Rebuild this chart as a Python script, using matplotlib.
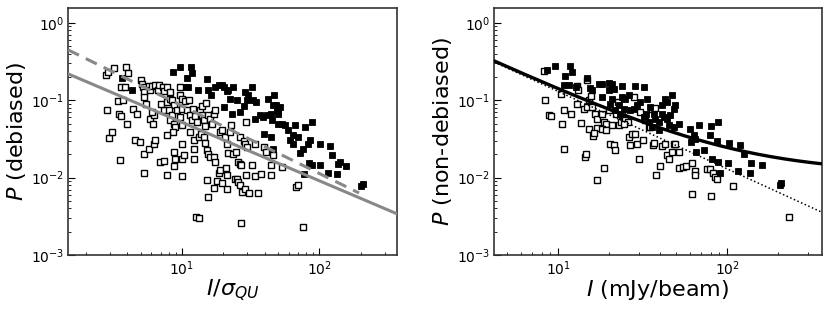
import matplotlib
matplotlib.use("Agg")
import numpy as np
from matplotlib import pyplot as plt

# left panel: P (debiased) vs I / sigma_QU
LEFT_OPEN_X = [
    2.79, 2.88, 3.19, 3.90, 4.05, 3.60, 3.85, 2.85, 3.43, 3.75, 3.47, 3.62, 3.98, 2.95, 3.08, 3.56,
    4.38, 4.71, 4.58, 4.92, 5.03, 5.12, 5.21, 5.33, 5.47, 5.27, 5.72, 5.82, 6.05, 6.39, 6.69, 6.84,
    7.24, 7.36, 5.33, 5.33, 5.79, 6.22, 6.32, 5.89, 6.22, 6.15, 6.05, 7.36, 7.08, 7.78, 8.13, 7.78,
    8.23, 8.51, 8.70, 8.05, 8.46, 8.23, 8.70, 8.84, 8.65, 7.78, 6.88, 7.36, 7.78, 8.70, 8.84, 8.80,
    9.72, 9.72, 10.0, 9.20, 9.72, 10.0, 10.0, 10.6, 10.9, 11.4, 11.8, 11.5, 12.2, 10.0, 9.94, 10.4,
    10.1, 11.2, 12.0, 12.5, 12.8, 13.6, 14.0, 14.5, 14.8, 14.0, 14.9, 15.6, 16.1, 16.5, 17.0, 17.5,
    12.2, 12.2, 13.4, 13.7, 14.5, 14.8, 15.2, 15.6, 16.1, 17.0, 17.5, 15.2, 15.4, 17.2, 17.9, 18.5,
    19.0, 19.5, 20.9, 21.2, 12.6, 13.4, 19.0, 19.5, 20.7, 21.2, 21.6, 23.7, 22.8, 24.6, 25.8, 26.5,
    24.4, 25.1, 25.8, 26.5, 27.3, 28.8, 29.3, 30.7, 26.8, 26.5, 28.1, 28.8, 29.6, 32.6, 34.1, 36.1,
    37.9, 39.8, 41.0, 44.6, 44.6, 46.3, 27.0, 29.3, 22.4, 67.3, 69.6, 76.6, 53.2, 34.1, 21.2,
]
LEFT_OPEN_P = [
    0.213, 0.230, 0.264, 0.270, 0.226, 0.146, 0.146, 0.0757, 0.098, 0.100, 0.0659, 0.0621, 0.0499,
    0.0326, 0.039, 0.0168, 0.0765, 0.0673, 0.0304, 0.0286, 0.185, 0.164, 0.146, 0.128, 0.0906, 0.110,
    0.152, 0.135, 0.152, 0.155, 0.135, 0.155, 0.146, 0.132, 0.0113, 0.0200, 0.0232, 0.0275, 0.0310,
    0.0579, 0.0640, 0.049, 0.0707, 0.0743, 0.0906, 0.146, 0.128, 0.095, 0.105, 0.100, 0.0861, 0.0743,
    0.0640, 0.0562, 0.0499, 0.0452, 0.039, 0.0353, 0.016, 0.0164, 0.0107, 0.0215, 0.0176, 0.0140,
    0.146, 0.116, 0.105, 0.0743, 0.0608, 0.078, 0.0475, 0.097, 0.0743, 0.064, 0.0551, 0.039, 0.0304,
    0.0275, 0.0176, 0.0194, 0.0106, 0.100, 0.078, 0.0621, 0.0525, 0.0743, 0.064, 0.0551, 0.047,
    0.0836, 0.092, 0.064, 0.0574, 0.0499, 0.0673, 0.0743, 0.0237, 0.0176, 0.0336, 0.0371, 0.0336,
    0.0281, 0.023, 0.0204, 0.0185, 0.0185, 0.016, 0.0094, 0.0056, 0.0073, 0.0091, 0.0113, 0.0124,
    0.0084, 0.0135, 0.0107, 0.0031, 0.0030, 0.039, 0.0409, 0.0336, 0.0275, 0.0208, 0.0204, 0.0475,
    0.0215, 0.016, 0.0152, 0.0097, 0.0097, 0.0088, 0.008, 0.0065, 0.0071, 0.0107, 0.0063, 0.0144,
    0.0336, 0.0298, 0.0275, 0.0249, 0.0147, 0.0105, 0.0063, 0.011, 0.0249, 0.0215, 0.0107, 0.0144,
    0.0194, 0.0026, 0.0525, 0.039, 0.0076, 0.0081, 0.0023, 0.0137, 0.027, 0.0072,
]
LEFT_FILLED_X = [
    3.65, 4.33, 8.60, 9.62, 10.9, 11.6, 11.9, 10.7, 11.1, 13.0, 15.2, 15.6, 16.3, 17.5, 18.5, 19.5,
    20.1, 21.2, 21.8, 20.4, 22.4, 23.7, 25.1, 26.5, 28.1, 29.6, 28.8, 30.5, 32.2, 33.2, 34.7, 34.1,
    37.1, 39.2, 41.4, 42.6, 44.3, 45.1, 47.1, 48.4, 49.0, 50.4, 51.8, 50.4, 46.3, 39.8, 44.3, 45.8,
    50.4, 53.2, 56.3, 59.6, 61.3, 64.0, 64.7, 66.5, 70.4, 72.4, 76.6, 78.7, 83.2, 85.5, 87.9, 84.6,
    87.9, 101, 102, 116, 119, 123, 134, 137, 141, 158, 203, 207, 77.8, 23.2,
]
LEFT_FILLED_P = [
    0.196, 0.135, 0.232, 0.270, 0.192, 0.270, 0.226, 0.146, 0.146, 0.135, 0.187, 0.135, 0.116,
    0.149, 0.158, 0.155, 0.149, 0.131, 0.137, 0.082, 0.104, 0.149, 0.100, 0.0707, 0.0836, 0.100,
    0.128, 0.116, 0.149, 0.100, 0.096, 0.0579, 0.064, 0.0608, 0.064, 0.103, 0.0673, 0.0551, 0.116,
    0.0861, 0.0757, 0.0728, 0.082, 0.0673, 0.0861, 0.0371, 0.0336, 0.0232, 0.0499, 0.0499, 0.0475,
    0.0409, 0.0304, 0.0275, 0.0353, 0.0475, 0.0336, 0.0208, 0.0237, 0.0452, 0.0275, 0.0304, 0.0525,
    0.0155, 0.0147, 0.0144, 0.0275, 0.0113, 0.0255, 0.0194, 0.011, 0.0152, 0.016, 0.014, 0.0078,
    0.0083, 0.011, 0.0673,
]

# right panel: P (non-debiased) vs I (mJy/beam)
RIGHT_OPEN_X = [
    8.23, 8.41, 8.81, 9.13, 10.4, 10.6, 10.9, 10.9, 11.9, 12.9, 13.1, 13.7, 14.2, 14.5, 14.6, 14.9,
    15.2, 15.3, 15.7, 16.0, 16.6, 17.0, 17.0, 18.2, 18.6, 18.8, 17.0, 19.3, 19.9, 20.4, 20.9, 21.4,
    21.6, 22.1, 22.6, 23.1, 23.6, 23.9, 25.0, 25.9, 26.2, 26.8, 27.4, 28.0, 28.7, 29.3, 30.3, 30.7,
    31.8, 32.9, 34.4, 36.0, 36.5, 36.8, 37.7, 38.2, 40.0, 41.2, 43.2, 44.2, 45.2, 47.3, 48.3, 49.4,
    51.8, 51.8, 54.7, 57.2, 62.1, 64.4, 64.4, 62.1, 76.2, 79.7, 82.6, 84.5, 87.3, 80.7, 109, 234,
    16.3, 18.2, 19.1, 24.5, 35.2, 12.9, 14.9, 15.9,
]
RIGHT_OPEN_P = [
    0.237, 0.100, 0.0653, 0.0621, 0.122, 0.0499, 0.0743, 0.0232, 0.0659, 0.152, 0.137, 0.0509, 0.078,
    0.0185, 0.0200, 0.182, 0.100, 0.0430, 0.113, 0.0346, 0.0673, 0.0579, 0.0444, 0.0659, 0.0525,
    0.0135, 0.0092, 0.0499, 0.0757, 0.0275, 0.0475, 0.0262, 0.0226, 0.0673, 0.095, 0.0475, 0.0525,
    0.064, 0.0551, 0.0525, 0.0336, 0.0262, 0.0371, 0.110, 0.0371, 0.0270, 0.0176, 0.0707, 0.0304,
    0.0551, 0.0452, 0.078, 0.0262, 0.0284, 0.0804, 0.0109, 0.0140, 0.0254, 0.0275, 0.0194, 0.0176,
    0.0215, 0.0275, 0.0270, 0.0215, 0.0133, 0.0137, 0.0142, 0.0156, 0.0121, 0.0107, 0.0062, 0.0131,
    0.0131, 0.0113, 0.0102, 0.0095, 0.0057, 0.0078, 0.0031, 0.0382, 0.0430, 0.0409, 0.0499, 0.0452,
    0.0906, 0.082, 0.082,
]
RIGHT_FILLED_X = [
    8.61, 9.56, 11.7, 12.1, 11.0, 10.9, 11.6, 12.8, 14.9, 15.5, 15.9, 17.4, 18.2, 19.9, 20.9, 19.9,
    21.4, 23.9, 28.7, 32.1, 18.2, 20.4, 20.9, 23.9, 25.0, 26.2, 22.8, 21.8, 24.5, 23.4, 26.8, 28.0,
    29.3, 30.7, 33.6, 35.2, 33.3, 32.1, 36.8, 37.7, 41.2, 43.2, 44.2, 41.2, 42.2, 44.2, 39.4, 46.2,
    48.3, 47.3, 49.4, 45.2, 48.3, 39.4, 34.4, 36.0, 51.8, 60.7, 68.0, 80.7, 88.5, 79.7, 87.3, 63.5,
    61.5, 103, 119, 65.0, 65.9, 72.7, 81.5, 88.5, 91.4, 102, 116, 126, 139, 136, 161, 207, 210,
]
RIGHT_FILLED_P = [
    0.244, 0.278, 0.278, 0.232, 0.206, 0.156, 0.156, 0.149, 0.191, 0.142, 0.135, 0.160, 0.160, 0.168,
    0.160, 0.135, 0.139, 0.153, 0.153, 0.149, 0.110, 0.0906, 0.105, 0.110, 0.105, 0.116, 0.0861,
    0.0743, 0.078, 0.0673, 0.0743, 0.078, 0.0861, 0.095, 0.105, 0.082, 0.0673, 0.0608, 0.0673,
    0.0579, 0.0861, 0.105, 0.095, 0.0673, 0.0608, 0.0579, 0.0525, 0.0653, 0.078, 0.116, 0.0861,
    0.0475, 0.0452, 0.0409, 0.0525, 0.0452, 0.0499, 0.0422, 0.0484, 0.0466, 0.0525, 0.0353, 0.0295,
    0.0353, 0.0289, 0.0284, 0.0267, 0.0319, 0.0215, 0.0226, 0.0176, 0.016, 0.0113, 0.0156, 0.0121,
    0.0204, 0.0156, 0.0113, 0.0144, 0.0081, 0.0085,
]

# fitted relations drawn over the points
LEFT_SOLID_FIT = (0.295, -0.755)    # amplitude, power-law index
LEFT_DASHED_FIT = (0.631, -0.873)
RIGHT_DOTTED_AMP = 1.3              # P = A / I
RIGHT_CURVE_FLOOR = 0.0115          # P = A / I + floor

LEFT_XLIM = (1.48, 369.0)
RIGHT_XLIM = (4.18, 365.0)
YLIM = (1e-3, 1.55)


def style_axes(ax, xlim):
    ax.set_xscale("log")
    ax.set_yscale("log")
    ax.set_xlim(xlim)
    ax.set_ylim(YLIM)
    ax.tick_params(which="major", direction="in", length=5, width=0.8, labelsize=10, pad=3)
    ax.tick_params(which="minor", direction="in", length=2.5, width=0.6)
    for spine in ax.spines.values():
        spine.set_color("#333333")
        spine.set_linewidth(1.2)


def draw_points(ax, open_x, open_p, filled_x, filled_p):
    ax.plot(open_x, open_p, ls="none", marker="s", ms=4.2, mfc="white", mec="black", mew=1.0, zorder=2)
    ax.plot(filled_x, filled_p, ls="none", marker="s", ms=4.8, mfc="black", mec="black", mew=0.6, zorder=2)


fig = plt.figure(figsize=(8.31, 3.09), dpi=100)
ax_left = fig.add_axes([0.0818, 0.1748, 0.396, 0.799])
ax_right = fig.add_axes([0.5945, 0.1748, 0.3947, 0.799])

# left
draw_points(ax_left, LEFT_OPEN_X, LEFT_OPEN_P, LEFT_FILLED_X, LEFT_FILLED_P)
xs = np.geomspace(LEFT_XLIM[0], LEFT_XLIM[1], 200)
ax_left.plot(xs, LEFT_SOLID_FIT[0] * xs ** LEFT_SOLID_FIT[1], color="#888888", lw=2.2, zorder=3)
xd = np.geomspace(LEFT_XLIM[0], 195.0, 200)
ax_left.plot(xd, LEFT_DASHED_FIT[0] * xd ** LEFT_DASHED_FIT[1], color="#888888", lw=2.2,
             ls=(0, (4, 2.5)), zorder=3)
style_axes(ax_left, LEFT_XLIM)
ax_left.set_xlabel(r"$I/\sigma_{QU}$", fontsize=16, labelpad=0)
ax_left.set_ylabel(r"$P$ (debiased)", fontsize=16, labelpad=2)

# right
draw_points(ax_right, RIGHT_OPEN_X, RIGHT_OPEN_P, RIGHT_FILLED_X, RIGHT_FILLED_P)
xr = np.geomspace(RIGHT_XLIM[0], RIGHT_XLIM[1], 200)
ax_right.plot(xr, RIGHT_DOTTED_AMP / xr, color="black", lw=1.1, ls=(0, (1, 1.6)), zorder=3)
ax_right.plot(xr, RIGHT_DOTTED_AMP / xr + RIGHT_CURVE_FLOOR, color="black", lw=2.4, zorder=3)
style_axes(ax_right, RIGHT_XLIM)
ax_right.set_xlabel(r"$I$ (mJy/beam)", fontsize=16, labelpad=0)
ax_right.set_ylabel(r"$P$ (non-debiased)", fontsize=16, labelpad=2)

fig.savefig("out.png", dpi=100)
